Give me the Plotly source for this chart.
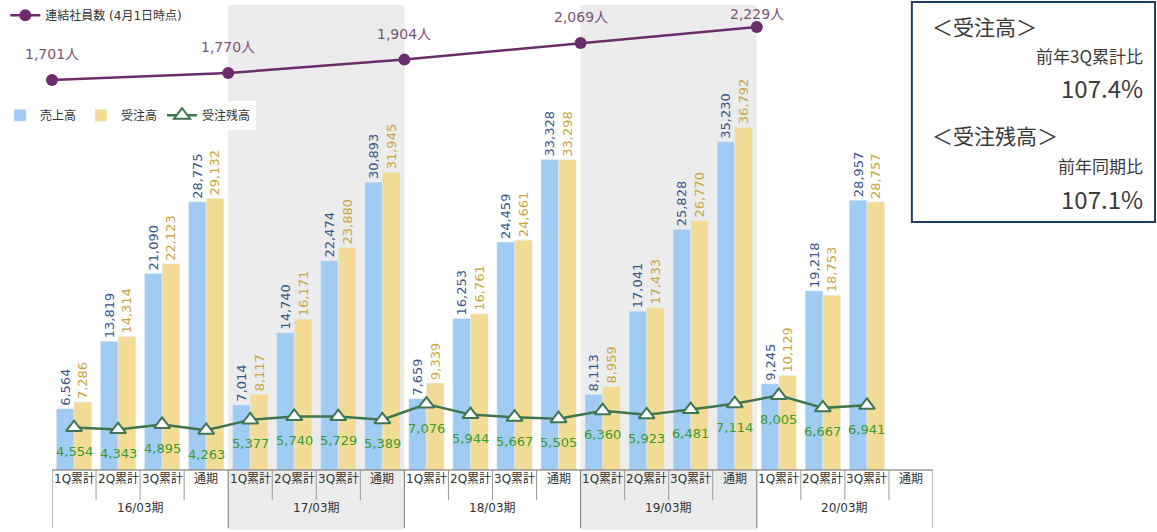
import plotly.graph_objects as go

periods = ["16/03期", "17/03期", "18/03期", "19/03期", "20/03期"]
quarters = ["1Q累計", "2Q累計", "3Q累計", "通期"]
sales = [6564, 13819, 21090, 28775, 7014, 14740, 22474, 30893,
         7659, 16253, 24459, 33328, 8113, 17041, 25828, 35230,
         9245, 19218, 28957, None]
orders = [7286, 14314, 22123, 29132, 8117, 16171, 23880, 31945,
          9339, 16761, 24661, 33298, 8959, 17433, 26770, 36792,
          10129, 18753, 28757, None]
backlog = [4554, 4343, 4895, 4263, 5377, 5740, 5729, 5389,
           7076, 5944, 5667, 5505, 6360, 5923, 6481, 7114,
           8005, 6667, 6941, None]
employees = [1701, 1770, 1904, 2069, 2229]

FONT = "DejaVu Sans, Noto Sans CJK JP"
n = len(periods) * len(quarters)
xs = list(range(n))
emp_x = [g * len(quarters) - 0.5 for g in range(len(periods))]

fig = go.Figure()
fig.add_bar(x=xs, y=sales, name="売上高", marker_color="#a0cbf2",
            texttemplate="%{y:,}", textposition="outside", textangle=-90,
            textfont=dict(color="#3a5688", size=13, family=FONT),
            constraintext="none", cliponaxis=False, legend="legend2")
fig.add_bar(x=xs, y=orders, name="受注高", marker_color="#f2dc95",
            texttemplate="%{y:,}", textposition="outside", textangle=-90,
            textfont=dict(color="#c9a63c", size=13, family=FONT),
            constraintext="none", cliponaxis=False, legend="legend2")
fig.add_scatter(x=xs, y=backlog, name="受注残高", mode="lines+markers",
                line=dict(color="#3f7650", width=2.5),
                marker=dict(symbol="triangle-up", size=14, color="white",
                            line=dict(color="#3f7650", width=2)),
                cliponaxis=False, legend="legend2")
fig.add_scatter(x=emp_x, y=employees, name="連結社員数 (4月1日時点)", yaxis="y2",
                mode="lines+markers", line=dict(color="#6b2c6b", width=2.5),
                marker=dict(size=12, color="#6b2c6b"), cliponaxis=False,
                legend="legend", showlegend=True)

ann = []
for i, v in enumerate(backlog):
    if v is None:
        continue
    ann.append(dict(x=i, y=v, xref="x", yref="y", text=f"{v:,}", showarrow=False,
                    yshift=-24, font=dict(color="#3b9a2e", size=13, family=FONT)))
for i, v in enumerate(employees):
    ann.append(dict(x=emp_x[i], y=v, xref="x", yref="y2", text=f"{v:,}人", showarrow=False,
                    yshift=26 if i < len(employees) - 1 else 13,
                    font=dict(color="#7a5478", size=14, family=FONT)))
for i in range(n):
    ann.append(dict(x=i, y=-0.039, xref="x", yref="paper", text=quarters[i % 4], showarrow=False,
                    font=dict(color="#333333", size=12, family=FONT)))
for g, p in enumerate(periods):
    ann.append(dict(x=g * 4 + 1.5, y=-0.101, xref="x", yref="paper", text=p, showarrow=False,
                    font=dict(color="#333333", size=12, family=FONT)))

# right info box text
BOX = "Noto Sans CJK JP"
box_items = [("＜受注高＞", 0.9966, 26, "left", 21),
             ("前年3Q累計比", 1.2406, 56, "right", 17),
             ("107.4%", 1.2406, 87, "right", 24),
             ("＜受注残高＞", 0.9966, 135, "left", 21),
             ("前年同期比", 1.2406, 165, "right", 17),
             ("107.1%", 1.2406, 198, "right", 24)]
for t, xp, py, anc, sz in box_items:
    ann.append(dict(x=xp, y=(470 - py) / 465, xref="paper", yref="paper", text=t,
                    showarrow=False, xanchor=anc, yanchor="middle",
                    font=dict(color="#3a3a3a", size=sz, family=BOX)))

shapes = []
for g in (1, 3):
    shapes.append(dict(type="rect", xref="x", yref="paper", x0=g * 4 - 0.5, x1=g * 4 + 3.5,
                       y0=-0.129, y1=1, fillcolor="#ececec", line=dict(width=0), layer="below"))
shapes.append(dict(type="line", xref="x", yref="paper", x0=-0.5, x1=n - 0.5, y0=0, y1=0,
                   line=dict(color="#666666", width=1)))
for b in range(n + 1):
    major = b % 4 == 0
    shapes.append(dict(type="line", xref="x", yref="paper", x0=b - 0.5, x1=b - 0.5,
                       y0=0, y1=-0.125 if major else -0.065,
                       line=dict(color="#777777" if major else "#999999", width=1)))
shapes.append(dict(type="rect", xref="paper", yref="paper", x0=0.976, x1=1.252,
                   y0=(470 - 222) / 465, y1=(470 - 2) / 465, fillcolor="white",
                   line=dict(color="#1f3d6b", width=2)))

fig.update_layout(
    width=1157, height=532,
    margin=dict(l=52, r=224, t=5, b=62, autoexpand=False),
    paper_bgcolor="white", plot_bgcolor="rgba(0,0,0,0)",
    barmode="group", bargap=0.2, bargroupgap=0,
    font=dict(family=FONT, color="#333333"),
    xaxis=dict(range=[-0.5, n - 0.5], showticklabels=False, showgrid=False,
               zeroline=False, showline=False, ticks=""),
    yaxis=dict(range=[0, 49900], visible=False, showgrid=False),
    yaxis2=dict(range=[-2183, 2448], overlaying="y", visible=False, showgrid=False),
    showlegend=True,
    legend=dict(x=-0.053, y=0.978, xanchor="left", yanchor="middle", orientation="h",
                bgcolor="rgba(0,0,0,0)", font=dict(size=12, color="#333333")),
    legend2=dict(x=-0.059, y=0.763, xanchor="left", yanchor="middle", orientation="h",
                 bgcolor="white", font=dict(size=12, color="#333333"), traceorder="normal"),
    annotations=ann, shapes=shapes,
)
fig.write_html("out.html", config={"displayModeBar": False})
